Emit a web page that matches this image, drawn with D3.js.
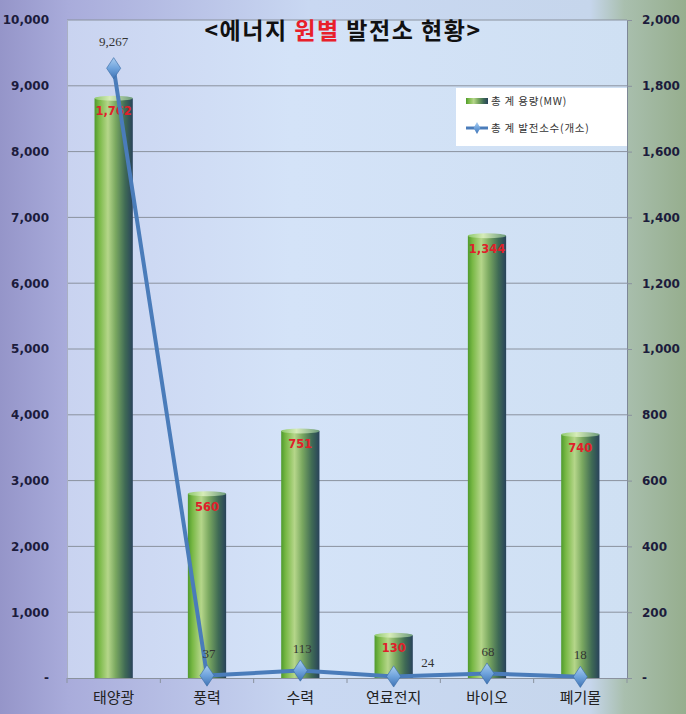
<!DOCTYPE html>
<html>
<head>
<meta charset="utf-8">
<script src="https://cdn.jsdelivr.net/npm/d3@7"></script>
<style>
  body { margin: 0; }
  svg { display: block; }
</style>
</head>
<body>
<script>
var categories = ["태양광", "풍력", "수력", "연료전지", "바이오", "폐기물"];
var capacity = [1762, 560, 751, 130, 1344, 740];     // 총 계 용량(MW), right axis
var plants = [9267, 37, 113, 24, 68, 18];            // 총 계 발전소수(개소), left axis
var leftTicks = [0, 1000, 2000, 3000, 4000, 5000, 6000, 7000, 8000, 9000, 10000];
var rightTicks = [0, 200, 400, 600, 800, 1000, 1200, 1400, 1600, 1800, 2000];

var W = 686, H = 714;
var margin = {top: 20, right: 59, bottom: 36, left: 67},
  width = W - margin.left - margin.right,
  height = H - margin.top - margin.bottom;

var svg = d3.select("body").append("svg")
  .attr("width", W)
  .attr("height", H);

var defs = svg.append("defs");

var bg = defs.append("linearGradient").attr("id", "bg");
[[0, "#9595c9"], [0.1, "#a9acdb"], [0.45, "#c9d8f2"], [0.86, "#c6d6ec"], [0.91, "#a9bfae"], [1, "#96ae8e"]]
  .forEach(function (s) { bg.append("stop").attr("offset", s[0]).attr("stop-color", s[1]); });

var plotBg = defs.append("linearGradient").attr("id", "plotBg");
[[0, "#c9d3f0"], [0.4, "#d4e3f8"], [1, "#cfe0f3"]]
  .forEach(function (s) { plotBg.append("stop").attr("offset", s[0]).attr("stop-color", s[1]); });

var barGrad = defs.append("linearGradient").attr("id", "barGrad");
[[0, "#4f9a2c"], [0.12, "#78b845"], [0.35, "#b5d68a"], [0.55, "#7aa860"], [0.8, "#3f6a55"], [1, "#28425a"]]
  .forEach(function (s) { barGrad.append("stop").attr("offset", s[0]).attr("stop-color", s[1]); });

var capGrad = defs.append("linearGradient").attr("id", "capGrad");
[[0, "#8cc86a"], [0.4, "#d6ecb8"], [1, "#6b9a7a"]]
  .forEach(function (s) { capGrad.append("stop").attr("offset", s[0]).attr("stop-color", s[1]); });

var mkGrad = defs.append("linearGradient").attr("id", "mkGrad")
  .attr("x1", 0).attr("y1", 0).attr("x2", 0).attr("y2", 1);
[[0, "#a9cdf0"], [0.5, "#6fa3dc"], [1, "#3f73b4"]]
  .forEach(function (s) { mkGrad.append("stop").attr("offset", s[0]).attr("stop-color", s[1]); });

svg.append("rect").attr("width", W).attr("height", H).attr("fill", "url(#bg)");

var g = svg.append("g")
  .attr("transform", "translate(" + margin.left + "," + margin.top + ")");

g.append("rect").attr("width", width).attr("height", height).attr("fill", "url(#plotBg)");

var x = d3.scaleBand().domain(categories).range([0, width]);
var yL = d3.scaleLinear().domain([0, 10000]).range([height, 0]);
var yR = d3.scaleLinear().domain([0, 2000]).range([height, 0]);

function fmt(v) { return v === 0 ? "-" : d3.format(",")(v); }

// gridlines
g.selectAll(".grid").data(leftTicks.slice(1)).enter().append("line")
  .attr("x1", 0).attr("x2", width)
  .attr("y1", function (d) { return yL(d); })
  .attr("y2", function (d) { return yL(d); })
  .attr("stroke", "#8a929e").attr("stroke-width", 1);

// left axis
var axL = g.append("g")
  .call(d3.axisLeft(yL).tickValues(leftTicks).tickFormat(fmt).tickSize(0).tickPadding(18));
axL.select(".domain").attr("stroke", "#a9b0c4");
axL.selectAll("text")
  .attr("font-family", "'DejaVu Sans', sans-serif").attr("font-size", 12)
  .attr("font-weight", "bold").attr("fill", "#1c1c3c");

// right axis
var axR = g.append("g").attr("transform", "translate(" + width + ",0)")
  .call(d3.axisRight(yR).tickValues(rightTicks).tickFormat(fmt).tickSize(5).tickPadding(10));
axR.select(".domain").attr("stroke", "#7d8796");
axR.selectAll(".tick line").attr("stroke", "#8a929e");
axR.selectAll("text")
  .attr("font-family", "'DejaVu Sans', sans-serif").attr("font-size", 12)
  .attr("font-weight", "bold").attr("fill", "#1c1c3c");

// bottom axis
var axB = g.append("g").attr("transform", "translate(0," + height + ")")
  .call(d3.axisBottom(x).tickSize(0).tickPadding(14));
axB.select(".domain").attr("stroke", "#8a929e");
axB.selectAll("text")
  .attr("font-family", "'Noto Sans CJK KR', sans-serif").attr("font-size", 15)
  .attr("fill", "#222");
g.selectAll(".btick").data(d3.range(0, categories.length + 1)).enter().append("line")
  .attr("x1", function (i) { return i * x.step(); })
  .attr("x2", function (i) { return i * x.step(); })
  .attr("y1", height).attr("y2", height + 5)
  .attr("stroke", "#8a929e");

// bars (cylinders)
var bw = x.bandwidth() * 0.41;
var bars = g.selectAll(".bar").data(categories).enter().append("g")
  .attr("transform", function (d) { return "translate(" + (x(d) + x.bandwidth() / 2 - bw / 2) + ",0)"; });
bars.append("rect")
  .attr("y", function (d, i) { return yR(capacity[i]); })
  .attr("width", bw)
  .attr("height", function (d, i) { return height - yR(capacity[i]); })
  .attr("fill", "url(#barGrad)");
bars.append("ellipse")
  .attr("cx", bw / 2)
  .attr("cy", function (d, i) { return yR(capacity[i]); })
  .attr("rx", bw / 2).attr("ry", 2.5)
  .attr("fill", "url(#capGrad)");

bars.append("text")
  .attr("x", bw / 2)
  .attr("y", function (d, i) { return yR(capacity[i]) + 17; })
  .attr("text-anchor", "middle")
  .attr("font-family", "'DejaVu Sans', sans-serif").attr("font-size", 11.5)
  .attr("font-weight", "bold").attr("fill", "#e0202a")
  .text(function (d, i) { return d3.format(",")(capacity[i]); });

// line
var cx = function (i) { return x(categories[i]) + x.bandwidth() / 2; };
g.append("path")
  .datum(plants)
  .attr("fill", "none")
  .attr("stroke", "#4a7cba").attr("stroke-width", 4).attr("stroke-linejoin", "round")
  .attr("d", d3.line().x(function (d, i) { return cx(i); }).y(function (d) { return yL(d); }));

g.selectAll(".mk").data(plants).enter().append("path")
  .attr("d", d3.symbol().type(d3.symbolDiamond).size(130))
  .attr("transform", function (d, i) { return "translate(" + cx(i) + "," + yL(d) + ") scale(1.15,1)"; })
  .attr("fill", "url(#mkGrad)").attr("stroke", "#3d6ea8").attr("stroke-width", 0.6);

var lblDx = [0, 2, 2, 34, 1, 0];
var lblDy = [-22, -18, -18, -9, -18, -18];
g.selectAll(".pl").data(plants).enter().append("text")
  .attr("x", function (d, i) { return cx(i) + lblDx[i]; })
  .attr("y", function (d, i) { return yL(d) + lblDy[i]; })
  .attr("text-anchor", "middle")
  .attr("font-family", "'Liberation Serif', serif").attr("font-size", 13)
  .attr("fill", "#333")
  .text(function (d) { return d3.format(",")(d); });

// title
var title = svg.append("text")
  .attr("x", 343).attr("y", 39)
  .attr("text-anchor", "middle")
  .attr("font-family", "'Noto Sans CJK KR', sans-serif").attr("font-size", 23)
  .attr("font-weight", "bold").attr("fill", "#111")
  .attr("letter-spacing", 1.5);
title.append("tspan").text("<에너지 ");
title.append("tspan").attr("fill", "#e8202a").text("원별");
title.append("tspan").text(" 발전소 현황>");

// legend
var lg = svg.append("g").attr("transform", "translate(456,88)");
lg.append("rect").attr("width", 171).attr("height", 58).attr("fill", "#ffffff");
lg.append("rect").attr("x", 10).attr("y", 10).attr("width", 22).attr("height", 6).attr("fill", "url(#barGrad)");
lg.append("line").attr("x1", 10).attr("x2", 32).attr("y1", 40).attr("y2", 40)
  .attr("stroke", "#4a7cba").attr("stroke-width", 3);
lg.append("path").attr("d", d3.symbol().type(d3.symbolDiamond).size(40))
  .attr("transform", "translate(21,40)").attr("fill", "url(#mkGrad)");
lg.selectAll(".lt").data(["총 계 용량(MW)", "총 계 발전소수(개소)"]).enter().append("text")
  .attr("x", 35).attr("y", function (d, i) { return 17 + i * 27; })
  .attr("font-family", "'Noto Sans CJK KR', sans-serif").attr("font-size", 10.5)
  .attr("letter-spacing", 0.8)
  .attr("fill", "#333")
  .text(function (d) { return d; });
</script>
</body>
</html>
